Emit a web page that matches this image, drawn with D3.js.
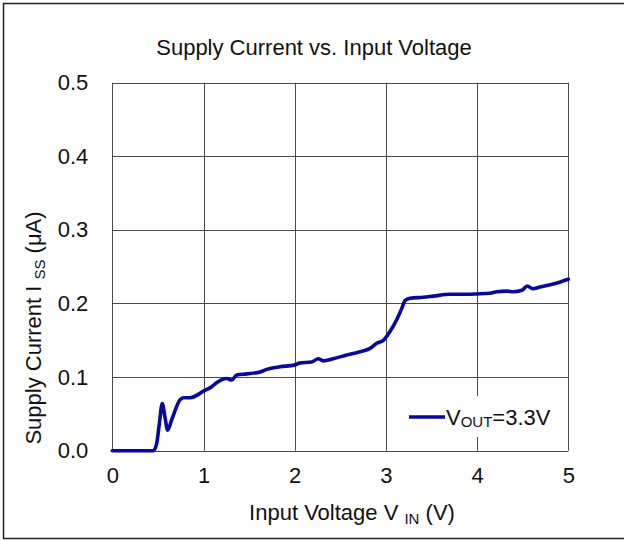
<!DOCTYPE html>
<html>
<head>
<meta charset="utf-8">
<script src="https://cdn.jsdelivr.net/npm/d3@7"></script>
<style>
  html, body { margin: 0; padding: 0; background: #fff; }
  svg { display: block; font-family: "Liberation Sans", Arial, sans-serif; }
</style>
</head>
<body>
<svg id="chart" width="624" height="541"></svg>
<script>
// ---- data ----
const vin = [0, 0.45, 0.487, 0.516, 0.548, 0.577, 0.607, 0.651, 0.742, 0.779, 0.852, 1.009, 1.09, 1.144, 1.254, 1.31, 1.364, 1.474, 1.62, 1.693, 1.839, 2.0, 2.05, 2.186, 2.259, 2.313, 2.423, 2.57, 2.716, 2.826, 2.899, 2.972, 3.045, 3.118, 3.173, 3.21, 3.264, 3.41, 3.52, 3.703, 3.885, 4.0, 4.14, 4.216, 4.325, 4.398, 4.49, 4.55, 4.61, 4.69, 4.836, 5.0];
const iss = [0, 0, 0.01, 0.037, 0.064, 0.046, 0.028, 0.042, 0.069, 0.072, 0.072, 0.0815, 0.087, 0.0924, 0.098, 0.096, 0.103, 0.1044, 0.107, 0.1105, 0.114, 0.1164, 0.119, 0.1205, 0.125, 0.122, 0.125, 0.130, 0.1345, 0.139, 0.146, 0.150, 0.162, 0.178, 0.193, 0.204, 0.207, 0.2085, 0.210, 0.2125, 0.2125, 0.213, 0.214, 0.216, 0.2168, 0.216, 0.218, 0.2238, 0.220, 0.2225, 0.2265, 0.233];
const xTicks = [0, 1, 2, 3, 4, 5];
const yTicks = [0.0, 0.1, 0.2, 0.3, 0.4, 0.5];
const titleText = "Supply Current vs. Input Voltage";
const seriesName = "3.3V";

// ---- layout ----
const svg = d3.select("#chart");
const pLeft = 112.3, pRight = 568.3, pTop = 82.7, pBottom = 450.7;
const x = d3.scaleLinear().domain([0, 5]).range([pLeft, pRight]);
const y = d3.scaleLinear().domain([0, 0.5]).range([pBottom, pTop]);
const gridColor = "#4a4a4a";
const fs = 22, fsSub = 15;
const lineColor = "#0808a0";

// outer frame
svg.append("rect").attr("x", 3.5).attr("y", 3.5).attr("width", 625).attr("height", 535)
  .attr("fill", "none").attr("stroke", "#222").attr("stroke-width", 1.5);

// title
svg.append("text").attr("x", 314).attr("y", 55).attr("text-anchor", "middle")
  .attr("font-size", fs).attr("fill", "#111").text(titleText);

// grid
const g = svg.append("g");
g.selectAll("line.vg").data(xTicks).join("line")
  .attr("x1", d => Math.round(x(d)) + 0.5).attr("x2", d => Math.round(x(d)) + 0.5)
  .attr("y1", pTop).attr("y2", pBottom)
  .attr("stroke", gridColor).attr("stroke-width", 1);
g.selectAll("line.hg").data(yTicks).join("line")
  .attr("y1", d => Math.round(y(d)) + 0.5).attr("y2", d => Math.round(y(d)) + 0.5)
  .attr("x1", pLeft).attr("x2", pRight)
  .attr("stroke", gridColor).attr("stroke-width", 1);

// axes labels via d3 axes (tick lines hidden)
const xAxis = d3.axisBottom(x).tickValues(xTicks).tickFormat(d3.format("d")).tickSize(0).tickPadding(17);
const yAxis = d3.axisLeft(y).tickValues(yTicks).tickFormat(d3.format(".1f")).tickSize(0).tickPadding(24);
const gx = svg.append("g").attr("transform", `translate(0,${pBottom})`).call(xAxis);
const gy = svg.append("g").attr("transform", `translate(${pLeft},0)`).call(yAxis);
[gx, gy].forEach(a => {
  a.select(".domain").remove();
  a.selectAll("text").attr("font-size", fs).attr("font-family", "Liberation Sans, Arial, sans-serif").attr("fill", "#111");
});

// legend background (covers grid)
svg.append("rect").attr("x", 402).attr("y", 396).attr("width", 160).attr("height", 41).attr("fill", "#fff");

// data line
const pts = vin.map((v, i) => [v, iss[i]]);
svg.append("path").datum(pts)
  .attr("d", d3.line().x(d => x(d[0])).y(d => y(d[1])).curve(d3.curveMonotoneX))
  .attr("fill", "none").attr("stroke", lineColor).attr("stroke-width", 3.6)
  .attr("stroke-linejoin", "round").attr("stroke-linecap", "round");

// legend
svg.append("line").attr("x1", 409).attr("x2", 445).attr("y1", 417).attr("y2", 417)
  .attr("stroke", lineColor).attr("stroke-width", 3.6);
const lt = svg.append("text").attr("x", 446).attr("y", 425).attr("font-size", fs).attr("fill", "#111");
lt.append("tspan").text("V");
lt.append("tspan").attr("font-size", fsSub).attr("dy", 2).text("OUT");
lt.append("tspan").attr("dy", -2).text("=" + seriesName);

// x axis title
const xt = svg.append("text").attr("x", 352).attr("y", 520).attr("text-anchor", "middle")
  .attr("font-size", fs).attr("fill", "#111");
xt.append("tspan").text("Input Voltage V ");
xt.append("tspan").attr("font-size", fsSub).attr("dy", 4).text("IN");
xt.append("tspan").attr("dy", -4).text(" (V)");

// y axis title
const yt = svg.append("text").attr("transform", "translate(41,328) rotate(-90)")
  .attr("text-anchor", "middle").attr("font-size", fs).attr("fill", "#111");
yt.append("tspan").text("Supply Current I ");
yt.append("tspan").attr("font-size", fsSub).attr("dy", 4).text("SS");
yt.append("tspan").attr("dy", -4).text(" (μA)");
</script>
</body>
</html>
